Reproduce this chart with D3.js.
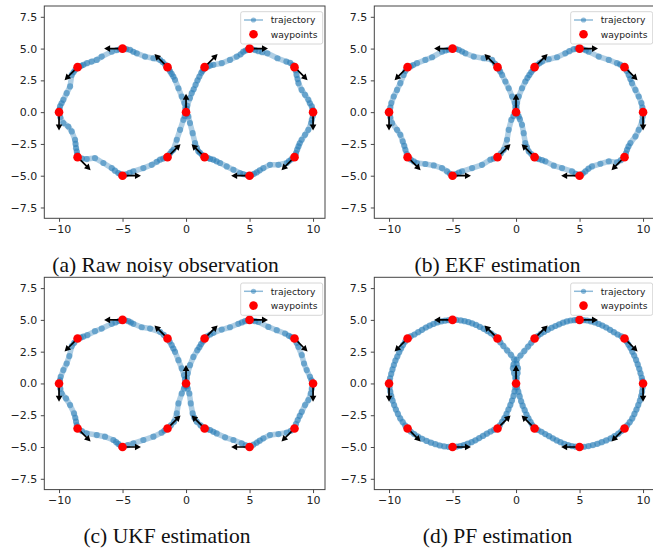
<!DOCTYPE html>
<html lang="en">
<head>
  <meta charset="UTF-8">
  <title>Trajectory estimation</title>
  <style>
    html, body { margin: 0; background: #fff; }
    svg { display: block; }
  </style>
</head>
<body>
  <svg id="chart" width="653" height="548"></svg>
  <script src="https://cdn.jsdelivr.net/npm/d3@7"></script>
  <script>
    // waypoints (shared by all four panels) and heading in degrees
    var wpX = [0, 1.46, 5, 8.54, 10, 8.54, 5, 1.46, -1.46, -5, -8.54, -10, -8.54, -5, -1.46]
    var wpY = [0, 3.54, 5, 3.54, 0, -3.54, -5, -3.54, 3.54, 5, 3.54, 0, -3.54, -5, -3.54]
    var wpHeading = [90, 45, 0, -45, -90, -135, 180, 135, 135, 180, -135, -90, -45, 0, 45]

    var xTicks = [-10, -5, 0, 5, 10]
    var yTicks = [-7.5, -5, -2.5, 0, 2.5, 5, 7.5]
    var captions = ['(a) Raw noisy observation', '(b) EKF estimation', '(c) UKF estimation', '(d) PF estimation']
    var legendLabels = ['trajectory', 'waypoints']

    // trajectories, in drive order
    var trajA = [[0,0],[0.05,0.25],[0.1,0.5],[0.3,1.1],[0.45,1.5],[0.6,1.8],[0.75,2.15],[0.9,2.5],[1.05,2.8],[1.2,3.1],[1.3,3.25],[1.4,3.4],
      [1.46,3.54],[1.7,3.58],[1.9,3.66],[2.15,3.72],[2.81,3.85],[3.46,4.11],[3.99,4.37],[4.3,4.55],[4.51,4.76],[4.7,4.85],[4.85,4.93],
      [5,5],[5.2,4.95],[5.45,4.88],[5.7,4.8],[6.0,4.72],[6.4,4.63],[7.2,4.24],[7.9,3.98],[8.2,3.88],[8.4,3.7],
      [8.54,3.54],[8.62,3.3],[8.7,2.93],[8.78,2.6],[8.85,2.28],[9.1,1.75],[9.37,1.36],[9.63,0.97],[9.75,0.7],[9.9,0.45],[9.97,0.2],
      [10,0],[9.98,-0.3],[9.9,-0.6],[9.85,-0.86],[9.63,-1.39],[9.37,-1.78],[9.1,-2.17],[8.95,-2.45],[8.85,-2.7],[8.75,-2.95],[8.66,-3.22],[8.6,-3.4],
      [8.54,-3.54],[8.3,-3.7],[8.1,-3.85],[7.93,-4.0],[7.27,-4.14],[6.61,-4.14],[6.09,-4.4],[5.8,-4.58],[5.56,-4.74],[5.35,-4.85],[5.15,-4.95],
      [5,-5],[4.8,-4.95],[4.5,-4.87],[4.25,-4.79],[3.73,-4.53],[3.2,-4.27],[2.68,-4.0],[2.4,-3.87],[2.15,-3.74],[1.9,-3.68],[1.7,-3.6],
      [1.46,-3.54],[1.25,-3.35],[1.1,-3.2],[0.97,-3.09],[0.85,-2.8],[0.71,-2.43],[0.52,-1.65],[0.31,-0.86],[0.18,-0.34],[0.08,-0.15],
      [0,0],[-0.05,0.3],[-0.13,0.71],[-0.34,1.23],[-0.6,1.88],[-0.87,2.54],[-1.0,2.8],[-1.13,3.01],[-1.25,3.2],[-1.35,3.38],
      [-1.46,3.54],[-1.65,3.75],[-1.85,3.95],[-2.05,4.11],[-2.57,4.24],[-3.23,4.37],[-3.88,4.63],[-4.15,4.75],[-4.41,4.9],[-4.7,4.95],[-4.85,4.98],
      [-5,5],[-5.2,4.95],[-5.45,4.88],[-5.85,4.76],[-6.64,4.37],[-7.03,4.11],[-7.43,3.98],[-7.8,3.85],[-8.08,3.72],[-8.25,3.65],[-8.4,3.58],
      [-8.54,3.54],[-8.7,3.35],[-8.85,3.15],[-9.0,2.93],[-9.13,2.02],[-9.4,1.49],[-9.66,0.97],[-9.8,0.7],[-9.92,0.45],[-9.97,0.2],
      [-10,0],[-9.9,-0.4],[-9.66,-0.86],[-9.27,-1.13],[-9.0,-1.52],[-8.74,-2.17],[-8.7,-2.5],[-8.66,-2.83],[-8.6,-3.1],[-8.57,-3.35],
      [-8.54,-3.54],[-8.2,-3.65],[-7.82,-3.69],[-7.17,-3.61],[-6.51,-4.0],[-5.85,-4.4],[-5.6,-4.6],[-5.33,-4.79],[-5.15,-4.9],
      [-5,-5],[-4.75,-4.9],[-4.45,-4.78],[-4.15,-4.66],[-3.36,-4.4],[-2.7,-4.14],[-2.3,-3.9],[-2.05,-3.74],[-1.8,-3.65],[-1.6,-3.58],
      [-1.46,-3.54],[-1.3,-3.3],[-1.15,-3.1],[-1.0,-2.96],[-0.73,-2.17],[-0.47,-1.39],[-0.21,-0.6],[-0.1,-0.3],[0,0]]

    var trajB = [[0,0],[0.04,0.35],[0.08,0.71],[0.21,1.23],[0.47,1.88],[0.73,2.41],[0.9,2.7],[1.05,2.93],[1.2,3.15],[1.35,3.35],
      [1.46,3.54],[1.65,3.7],[1.85,3.85],[2.05,3.98],[2.57,4.16],[3.23,4.32],[3.88,4.63],[4.2,4.8],[4.54,4.95],[4.8,5.0],
      [5,5],[5.25,4.95],[5.5,4.86],[5.72,4.76],[6.51,4.37],[7.3,4.11],[7.95,3.85],[8.2,3.75],[8.4,3.62],
      [8.54,3.54],[8.7,3.25],[8.87,2.93],[9.0,2.6],[9.13,2.28],[9.4,1.75],[9.66,1.23],[9.87,0.71],[9.95,0.35],
      [10,0],[9.97,-0.35],[9.92,-0.73],[9.66,-1.39],[9.4,-1.91],[9.0,-2.43],[8.85,-2.7],[8.74,-2.96],[8.65,-3.25],
      [8.54,-3.54],[8.25,-3.78],[7.95,-3.95],[7.3,-3.87],[6.64,-4.06],[5.98,-4.27],[5.7,-4.45],[5.46,-4.66],[5.25,-4.83],
      [5,-5],[4.7,-4.85],[4.41,-4.66],[3.62,-4.4],[2.97,-4.21],[2.31,-3.87],[2.05,-3.78],[1.78,-3.69],[1.6,-3.62],
      [1.46,-3.54],[1.2,-3.3],[1.0,-3.09],[0.85,-2.75],[0.73,-2.43],[0.6,-1.65],[0.47,-1.0],[0.3,-0.55],[0.21,-0.34],[0.1,-0.15],
      [0,0],[-0.05,0.35],[-0.1,0.71],[-0.31,1.23],[-0.58,1.88],[-0.84,2.41],[-1.1,2.93],[-1.25,3.2],[-1.36,3.38],
      [-1.46,3.54],[-1.65,3.8],[-1.89,4.11],[-2.55,4.24],[-3.33,4.37],[-3.99,4.63],[-4.25,4.77],[-4.51,4.9],[-4.75,4.97],
      [-5,5],[-5.3,4.92],[-5.55,4.85],[-5.83,4.76],[-6.61,4.32],[-7.14,4.11],[-7.8,3.85],[-8.1,3.7],[-8.3,3.6],
      [-8.54,3.54],[-8.7,3.25],[-8.85,2.93],[-9.11,2.28],[-9.37,1.75],[-9.63,1.23],[-9.82,0.71],[-9.9,0.35],
      [-10,0],[-9.9,-0.4],[-9.76,-0.86],[-9.37,-1.39],[-9.11,-1.78],[-8.92,-2.3],[-8.8,-2.65],[-8.71,-2.96],[-8.6,-3.3],
      [-8.54,-3.54],[-8.3,-3.72],[-8.05,-3.88],[-7.8,-4.0],[-7.14,-4.08],[-6.48,-4.19],[-5.83,-4.4],[-5.43,-4.66],[-5.2,-4.85],
      [-5,-5],[-4.75,-4.88],[-4.5,-4.75],[-4.25,-4.66],[-3.46,-4.4],[-2.68,-4.14],[-2.02,-3.74],[-1.75,-3.65],
      [-1.46,-3.54],[-1.2,-3.25],[-0.97,-2.96],[-0.71,-2.17],[-0.58,-1.39],[-0.37,-0.6],[-0.2,-0.3],[0,0]]

    var trajC = [[0,0],[0.06,0.4],[0.13,0.79],[0.31,1.44],[0.58,2.09],[0.89,2.62],[1.05,2.85],[1.18,3.09],[1.33,3.3],
      [1.46,3.54],[1.65,3.7],[1.9,3.85],[2.15,3.98],[2.81,4.24],[3.46,4.42],[4.12,4.69],[4.4,4.8],[4.65,4.9],[4.85,4.97],
      [5,5],[5.2,4.95],[5.45,4.9],[5.7,4.84],[6.48,4.45],[7.14,4.19],[7.8,3.93],[8.1,3.75],[8.3,3.65],
      [8.54,3.54],[8.7,3.2],[8.84,2.88],[9.11,2.23],[9.29,1.57],[9.5,1.05],[9.76,0.52],[9.88,0.25],
      [10,0],[9.9,-0.4],[9.82,-0.79],[9.63,-1.31],[9.37,-1.7],[9.11,-2.23],[8.95,-2.55],[8.79,-2.88],[8.65,-3.2],
      [8.54,-3.54],[8.25,-3.72],[7.93,-3.87],[7.27,-3.98],[6.61,-4.06],[6.09,-4.32],[5.8,-4.5],[5.56,-4.66],[5.3,-4.82],
      [5,-5],[4.7,-4.86],[4.38,-4.71],[3.73,-4.45],[3.07,-4.24],[2.41,-3.93],[2.15,-3.8],[1.89,-3.66],[1.65,-3.6],
      [1.46,-3.54],[1.15,-3.3],[0.84,-3.01],[0.65,-2.7],[0.52,-2.36],[0.37,-1.57],[0.26,-0.79],[0.13,-0.39],[0.06,-0.2],
      [0,0],[-0.08,0.3],[-0.16,0.65],[-0.34,1.18],[-0.6,1.83],[-0.87,2.49],[-1.0,2.75],[-1.13,3.01],[-1.3,3.3],
      [-1.46,3.54],[-1.75,3.82],[-2.05,4.06],[-2.83,4.32],[-3.49,4.42],[-4.15,4.69],[-4.35,4.8],[-4.54,4.9],[-4.78,4.97],
      [-5,5],[-5.25,4.92],[-5.55,4.8],[-5.85,4.69],[-6.64,4.32],[-7.17,4.11],[-7.77,3.8],[-8.1,3.68],[-8.3,3.6],
      [-8.54,3.54],[-8.8,3.2],[-9.0,2.93],[-9.19,2.15],[-9.4,1.57],[-9.66,1.05],[-9.87,0.52],[-9.93,0.25],
      [-10,0],[-9.9,-0.4],[-9.79,-0.79],[-9.45,-1.18],[-9.13,-1.7],[-8.82,-2.36],[-8.72,-2.7],[-8.66,-3.01],[-8.6,-3.3],
      [-8.54,-3.54],[-8.2,-3.75],[-7.82,-3.93],[-7.03,-4.06],[-6.38,-4.19],[-5.72,-4.45],[-5.5,-4.62],[-5.33,-4.76],[-5.15,-4.9],
      [-5,-5],[-4.6,-4.85],[-4.15,-4.71],[-3.36,-4.45],[-2.57,-4.19],[-1.92,-3.87],[-1.7,-3.7],
      [-1.46,-3.54],[-1.2,-3.3],[-0.94,-3.01],[-0.73,-2.36],[-0.6,-1.57],[-0.34,-0.79],[-0.16,-0.39],[-0.07,-0.18],[0,0]]

    var trajD = [[0,0],[-0.05,0.4],[-0.15,0.8],[-0.25,1.2],[-0.2,1.5],[0.05,1.85],[0.35,2.2],[0.65,2.55],[0.95,2.9],[1.2,3.2],
      [1.46,3.54],[1.7,3.72],[1.95,3.9],[2.2,4.05],[2.5,4.22],[2.8,4.38],[3.1,4.52],[3.4,4.65],[3.7,4.78],[4.0,4.88],[4.3,4.95],[4.6,4.98],[4.8,5.0],
      [5,5],[5.3,4.98],[5.6,4.95],[5.9,4.88],[6.2,4.8],[6.5,4.68],[6.8,4.55],[7.1,4.4],[7.4,4.22],[7.7,4.03],[8.0,3.85],[8.3,3.7],
      [8.54,3.54],[8.7,3.3],[8.85,3.05],[9.0,2.8],[9.15,2.5],[9.3,2.2],[9.45,1.85],[9.58,1.5],[9.7,1.15],[9.8,0.8],[9.9,0.45],[9.96,0.2],
      [10,0],[9.97,-0.3],[9.92,-0.65],[9.85,-1.0],[9.75,-1.35],[9.62,-1.7],[9.48,-2.05],[9.32,-2.4],[9.15,-2.75],[8.95,-3.05],[8.75,-3.3],
      [8.54,-3.54],[8.3,-3.75],[8.05,-3.95],[7.75,-4.15],[7.45,-4.32],[7.1,-4.48],[6.75,-4.62],[6.4,-4.75],[6.05,-4.85],[5.7,-4.93],[5.35,-4.98],
      [5,-5],[4.7,-4.97],[4.4,-4.93],[4.1,-4.85],[3.8,-4.75],[3.5,-4.62],[3.2,-4.48],[2.9,-4.32],[2.6,-4.15],[2.3,-3.98],[2.0,-3.8],[1.7,-3.65],
      [1.46,-3.54],[1.3,-3.3],[1.15,-3.05],[0.98,-2.75],[0.82,-2.45],[0.68,-2.1],[0.52,-1.75],[0.4,-1.4],[0.28,-1.0],[0.18,-0.65],[0.08,-0.3],
      [0,0],[0.05,0.4],[0.12,0.8],[0.15,1.2],[0.05,1.55],[-0.15,1.9],[-0.4,2.25],[-0.7,2.6],[-1.0,2.95],[-1.25,3.25],
      [-1.46,3.54],[-1.7,3.75],[-1.98,3.95],[-2.25,4.12],[-2.55,4.3],[-2.85,4.45],[-3.15,4.6],[-3.45,4.72],[-3.75,4.83],[-4.05,4.9],[-4.35,4.96],[-4.7,5.0],
      [-5,5],[-5.3,4.98],[-5.6,4.94],[-5.9,4.88],[-6.2,4.8],[-6.5,4.68],[-6.8,4.55],[-7.1,4.4],[-7.4,4.22],[-7.7,4.03],[-8.0,3.85],[-8.3,3.7],
      [-8.54,3.54],[-8.72,3.3],[-8.9,3.02],[-9.05,2.75],[-9.2,2.45],[-9.35,2.12],[-9.5,1.8],[-9.62,1.45],[-9.73,1.1],[-9.83,0.75],[-9.92,0.4],[-9.97,0.15],
      [-10,0],[-9.96,-0.3],[-9.9,-0.65],[-9.82,-1.0],[-9.72,-1.35],[-9.6,-1.7],[-9.46,-2.05],[-9.3,-2.4],[-9.12,-2.75],[-8.92,-3.05],[-8.72,-3.32],
      [-8.54,-3.54],[-8.3,-3.78],[-8.02,-3.98],[-7.72,-4.18],[-7.4,-4.35],[-7.05,-4.52],[-6.7,-4.66],[-6.35,-4.78],[-6.0,-4.88],[-5.65,-4.95],[-5.3,-4.99],
      [-5,-5],[-4.7,-4.97],[-4.4,-4.92],[-4.1,-4.84],[-3.8,-4.74],[-3.5,-4.62],[-3.2,-4.47],[-2.9,-4.3],[-2.6,-4.13],[-2.3,-3.95],[-2.0,-3.78],[-1.72,-3.64],
      [-1.46,-3.54],[-1.28,-3.3],[-1.1,-3.02],[-0.92,-2.72],[-0.75,-2.4],[-0.6,-2.05],[-0.45,-1.7],[-0.32,-1.35],[-0.2,-0.98],[-0.12,-0.62],[-0.05,-0.3],[0,0]]

    var trajs = [trajA, trajB, trajC, trajD]

    var blue = '#1f77b4'
    var waypoints = wpX.map((x, i) => ({ x: x, y: wpY[i], h: wpHeading[i] }))

    var svg = d3.select('#chart')
    svg.append('rect').attr('width', 653).attr('height', 548).attr('fill', '#fff')

    // panel frame (a); others are shifted copies
    var frameL = 44.3, frameR = 325, frameT = 6, frameB = 218.3
    var offsets = [[0, 0], [330, 0], [0, 271.3], [330, 271.3]]
    var captionX = [165.5, 497.5, 167, 497.5]

    var x = d3.scaleLinear().domain([-11.16, 10.94]).range([frameL, frameR])
    var y = d3.scaleLinear().domain([-8.35, 8.35]).range([frameB, frameT])

    var line = d3.line().x(d => x(d[0])).y(d => y(d[1]))

    trajs.forEach(function (traj, i) {
      var g = svg.append('g')
        .attr('transform', `translate(${offsets[i][0]},${offsets[i][1]})`)

      // axes
      g.append('g')
        .attr('transform', `translate(0,${frameB})`)
        .call(d3.axisBottom(x).tickValues(xTicks).tickFormat(d3.format('d')).tickSize(3.5).tickPadding(3))
        .call(a => a.select('.domain').remove())
      g.append('g')
        .attr('transform', `translate(${frameL},0)`)
        .call(d3.axisLeft(y).tickValues(yTicks).tickFormat(d3.format('.1f')).tickSize(3.5).tickPadding(3.5))
        .call(a => a.select('.domain').remove())
      g.selectAll('.tick text')
        .attr('font-family', '"DejaVu Sans", sans-serif')
        .attr('font-size', 11)
        .attr('fill', '#222')
      g.selectAll('.tick line').attr('stroke', '#333').attr('stroke-width', 0.9)

      g.append('rect')
        .attr('x', frameL).attr('y', frameT)
        .attr('width', frameR - frameL).attr('height', frameB - frameT)
        .attr('fill', 'none').attr('stroke', '#444').attr('stroke-width', 1)

      // trajectory: soft band under the markers
      g.append('path')
        .datum(traj)
        .attr('d', line)
        .attr('fill', 'none')
        .attr('stroke', blue)
        .attr('stroke-opacity', 0.36)
        .attr('stroke-width', 5.5)
        .attr('stroke-linejoin', 'round')
      g.append('g')
        .selectAll('circle')
        .data(traj)
        .join('circle')
        .attr('cx', d => x(d[0]))
        .attr('cy', d => y(d[1]))
        .attr('r', 3.1)
        .attr('fill', blue)
        .attr('fill-opacity', 0.5)

      // heading arrows
      var L = x(1.45) - x(0), w = 0.85, hw = 3.3, hl = 6
      g.append('g')
        .selectAll('path')
        .data(waypoints)
        .join('path')
        .attr('d', `M0,${-w}L${L - hl},${-w}L${L - hl},${-hw}L${L},0L${L - hl},${hw}L${L - hl},${w}L0,${w}Z`)
        .attr('transform', d => `translate(${x(d.x)},${y(d.y)}) rotate(${-d.h})`)
        .attr('fill', '#000')

      // waypoints
      g.append('g')
        .selectAll('circle')
        .data(waypoints)
        .join('circle')
        .attr('cx', d => x(d.x))
        .attr('cy', d => y(d.y))
        .attr('r', 4.3)
        .attr('fill', 'red')

      // legend
      var lg = g.append('g').attr('transform', `translate(${frameR - 84.3},11.7)`)
      lg.append('rect')
        .attr('width', 82).attr('height', 32.3).attr('rx', 2)
        .attr('fill', '#fff').attr('fill-opacity', 0.8)
        .attr('stroke', '#ccc').attr('stroke-width', 0.8)
      lg.append('line')
        .attr('x1', 3.3).attr('x2', 22.3).attr('y1', 8.3).attr('y2', 8.3)
        .attr('stroke', blue).attr('stroke-opacity', 0.5).attr('stroke-width', 1.5)
      lg.append('circle').attr('cx', 12.8).attr('cy', 8.3).attr('r', 2.6)
        .attr('fill', blue).attr('fill-opacity', 0.5)
      lg.append('circle').attr('cx', 12.8).attr('cy', 22.6).attr('r', 4.3).attr('fill', 'red')
      lg.selectAll('text')
        .data(legendLabels)
        .join('text')
        .attr('x', 30)
        .attr('y', (d, j) => 8.3 + j * 14.3)
        .attr('dy', '0.35em')
        .attr('font-family', '"DejaVu Sans", sans-serif')
        .attr('font-size', 9.2)
        .attr('fill', '#222')
        .text(d => d)

      // caption
      g.append('text')
        .attr('x', captionX[i] - offsets[i][0])
        .attr('y', 272)
        .attr('text-anchor', 'middle')
        .attr('font-family', '"Liberation Serif", "Times New Roman", serif')
        .attr('font-size', 21.5)
        .attr('fill', '#111')
        .text(captions[i])
    })
  </script>
</body>
</html>
